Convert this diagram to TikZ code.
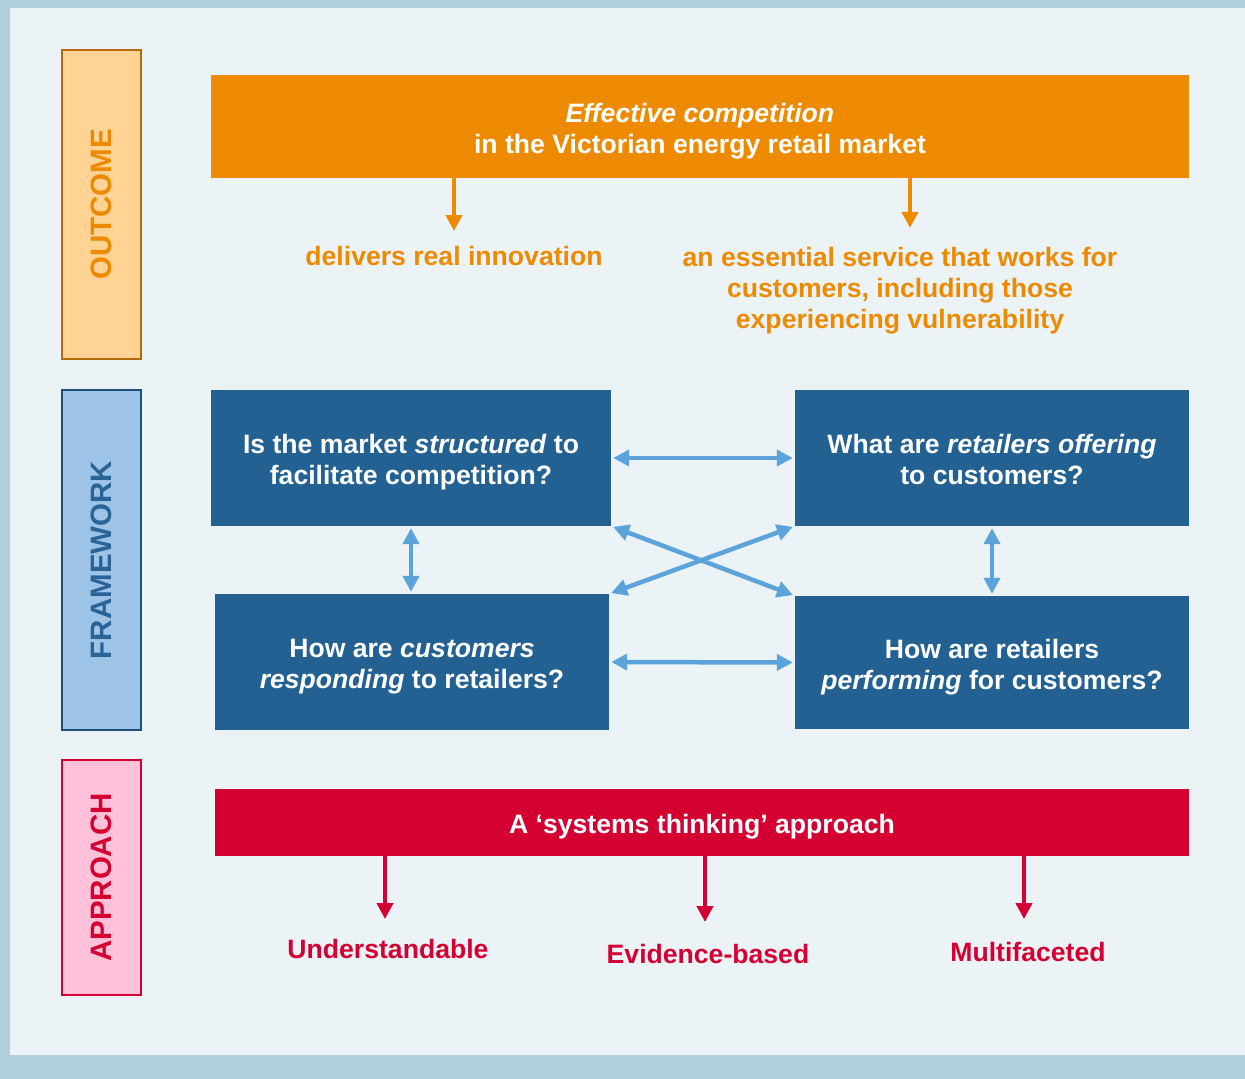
\documentclass[tikz,border=0pt]{standalone}
\usepackage{fontspec}
\setmainfont{Liberation Sans}
\usetikzlibrary{arrows.meta}
\definecolor{frameOuter}{HTML}{B0CFDB}
\definecolor{frameInner}{HTML}{EBF3F7}
\definecolor{outcomeOrange}{HTML}{EE8A00}
\definecolor{outcomeFill}{HTML}{FFD393}
\definecolor{outcomeLine}{HTML}{B5690A}
\definecolor{frameBlue}{HTML}{236192}
\definecolor{frameFill}{HTML}{9DC3E6}
\definecolor{frameLine}{HTML}{1F4E79}
\definecolor{frameText}{HTML}{2A6497}
\definecolor{linkBlue}{HTML}{5BA3DA}
\definecolor{approachRed}{HTML}{D50032}
\definecolor{approachFill}{HTML}{FFC1DA}
\begin{document}
\begin{tikzpicture}[x = 1pt, y = 1pt, yscale = -1, xscale = 1,
  font = \bfseries\fontsize{26.6}{31}\selectfont,
  sidelabel/.style = {rotate = 90, line width = 2.75pt, inner sep = 0pt, minimum height = 79pt, font = \bfseries\fontsize{29.5}{29.5}\selectfont},
  box/.style = {inner sep = 0pt, align = center, text = white, text height = 59.5pt, text depth = 5.6pt},
  caption/.style = {inner sep = 0pt, align = center},
  orangearrow/.style = {draw = outcomeOrange, line width = 4pt, -{Triangle[length = 16pt, width = 16pt]}},
  redarrow/.style = {draw = approachRed, line width = 4pt, -{Triangle[length = 16pt, width = 16pt]}},
  link/.style = {draw = linkBlue, line width = 4.5pt, {Triangle[length = 16pt, width = 16pt]}-{Triangle[length = 16pt, width = 16pt]}, shorten < = 2pt, shorten > = 2pt}]
\fill [frameOuter] (0, 0) rectangle (1245, 1079);
\fill [frameInner] (10, 8) rectangle (1245, 1055);
% side labels
\draw (101.5, 204.5) node (outcome) [sidelabel][draw = outcomeLine, fill = outcomeFill, text = outcomeOrange, minimum width = 309pt] {OUTCOME};
\draw (101.5, 560) node (framework) [sidelabel][draw = frameLine, fill = frameFill, text = frameText, minimum width = 340pt] {FRAMEWORK};
\draw (101.5, 877.5) node (approach) [sidelabel][draw = approachRed, fill = approachFill, text = approachRed, minimum width = 235pt] {APPROACH};
% outcome
\draw (700, 126.5) node (effective) [box][fill = outcomeOrange, minimum width = 978pt, minimum height = 103pt] {\textit{Effective competition}\\in the Victorian energy retail market};
\draw (454, 256) node (innovation) [caption][text = outcomeOrange] {delivers real innovation};
\draw (900, 290.5) node (service) [caption][text = outcomeOrange] {an essential service that works for\\customers, including those\\experiencing vulnerability};
\draw [orangearrow][shorten > = 15pt] (effective.south -| innovation.north) -- (innovation.north);
\draw [orangearrow][shorten > = 19pt] ([xshift = 10pt]effective.south -| service.north) -- ([xshift = 10pt]service.north);
% framework
\draw (411, 458) node (structure) [box][fill = frameBlue, minimum width = 400pt, minimum height = 136pt] {Is the market \textit{structured} to\\facilitate competition?};
\draw (992, 458) node (offering) [box][fill = frameBlue, minimum width = 394pt, minimum height = 136pt] {What are \textit{retailers offering}\\to customers?};
\draw (412, 662) node (responding) [box][fill = frameBlue, minimum width = 394pt, minimum height = 136pt] {How are \textit{customers}\\\textit{responding} to retailers?};
\draw (992, 662.5) node (performing) [box][fill = frameBlue, minimum width = 394pt, minimum height = 133pt] {How are retailers\\\textit{performing} for customers?};
\draw [link] (structure.east) -- (offering.west);
\draw [link] (responding.east) -- (performing.west);
\draw [link] (structure.south) -- (structure.south |- responding.north);
\draw [link] (offering.south) -- (performing.north);
\draw [link] (structure.south east) -- (performing.north west);
\draw [link] (offering.south west) -- (responding.north east);
% approach
\draw (702, 822.5) node (systems) [box][fill = approachRed, minimum width = 974pt, minimum height = 67pt, text height = 27.5pt] {A ‘systems thinking’ approach};
\draw (388, 949) node (understand) [caption][text = approachRed] {Understandable};
\draw (708, 954) node (evidence) [caption][text = approachRed] {Evidence-based};
\draw (1028, 952) node (multi) [caption][text = approachRed] {Multifaceted};
\draw [redarrow][shorten > = 20pt] ([xshift = -3pt]systems.south -| understand.north) -- ([xshift = -3pt]understand.north);
\draw [redarrow][shorten > = 22pt] ([xshift = -3pt]systems.south -| evidence.north) -- ([xshift = -3pt]evidence.north);
\draw [redarrow][shorten > = 23pt] ([xshift = -4pt]systems.south -| multi.north) -- ([xshift = -4pt]multi.north);
\end{tikzpicture}
\end{document}
